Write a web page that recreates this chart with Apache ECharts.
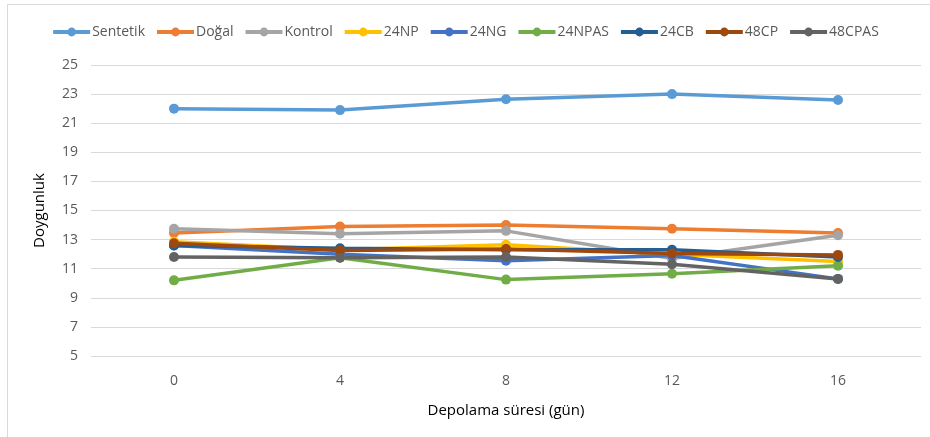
<!DOCTYPE html>
<html>
<head>
<meta charset="utf-8">
<script src="https://cdn.jsdelivr.net/npm/echarts@6/dist/echarts.min.js"></script>
<style>
  html, body { margin: 0; padding: 0; background: #fff; }
  #chart { width: 930px; height: 437px; }
</style>
</head>
<body>
<div id="chart"></div>
<script>
// Storage days on the horizontal axis
const days = ['0', '4', '8', '12', '16'];

// Saturation (Doygunluk) per sample over storage time
const sentetik = [22.0, 21.9, 22.65, 23.0, 22.6];
const dogal    = [13.45, 13.9, 14.0, 13.75, 13.45];
const kontrol  = [13.75, 13.4, 13.6, 11.7, 13.3];
const np24     = [12.85, 12.3, 12.65, 12.0, 11.5];
const ng24     = [12.6, 12.0, 11.55, 11.9, 10.3];
const npas24   = [10.2, 11.75, 10.25, 10.65, 11.2];
const cb24     = [12.6, 12.4, 12.3, 12.3, 11.8];
const cp48     = [12.75, 12.25, 12.35, 12.05, 11.95];
const cpas48   = [11.8, 11.75, 11.8, 11.3, 10.3];

const seriesNames = ['Sentetik', 'Doğal', 'Kontrol', '24NP', '24NG', '24NPAS', '24CB', '48CP', '48CPAS'];
const seriesValues = [sentetik, dogal, kontrol, np24, ng24, npas24, cb24, cp48, cpas48];
const seriesColors = ['#5B9BD5', '#ED7D31', '#A5A5A5', '#FFC000', '#4472C4', '#70AD47', '#255E91', '#9E480E', '#636363'];

// Y axis ticks
const yMin = 5, yMax = 25, yStep = 2;

const font = "'Open Sans', sans-serif";

const chart = echarts.init(document.getElementById('chart'), null, { renderer: 'canvas' });

chart.setOption({
  animation: false,
  backgroundColor: '#ffffff',
  graphic: [{
    type: 'rect',
    shape: { x: 7.5, y: 4.5, width: 940, height: 450 },
    style: { fill: 'none', stroke: '#D9D9D9', lineWidth: 1 },
    silent: true
  }],
  legend: {
    top: 20,
    left: 'center',
    itemWidth: 37,
    itemHeight: 11,
    itemGap: 10,
    lineStyle: { width: 4 },
    textStyle: { color: '#595959', fontSize: 14, fontFamily: font, padding: [0, 0, 0, -3] },
    data: seriesNames
  },
  grid: { left: 91, right: 9, top: 65, bottom: 81 },
  xAxis: {
    type: 'category',
    data: days,
    boundaryGap: true,
    name: 'Depolama süresi (gün)',
    nameLocation: 'middle',
    nameGap: 47,
    nameTextStyle: { color: '#000000', fontSize: 15, fontFamily: font },
    axisLine: { show: false },
    axisTick: { show: false },
    axisLabel: { color: '#595959', fontSize: 14, fontFamily: font, margin: 18 }
  },
  yAxis: {
    type: 'value',
    min: yMin,
    max: yMax,
    interval: yStep,
    name: 'Doygunluk',
    nameLocation: 'middle',
    nameGap: 44,
    nameRotate: 90,
    nameTextStyle: { color: '#000000', fontSize: 15, fontFamily: font },
    axisLine: { show: false },
    axisTick: { show: false },
    axisLabel: { color: '#595959', fontSize: 14, fontFamily: font, margin: 13 },
    splitLine: { lineStyle: { color: '#D9D9D9', width: 1 } }
  },
  series: seriesNames.map((name, i) => ({
    name: name,
    type: 'line',
    data: seriesValues[i],
    symbol: 'circle',
    symbolSize: 10,
    color: seriesColors[i],
    lineStyle: { width: 3.5, color: seriesColors[i] },
    itemStyle: { color: seriesColors[i] }
  }))
});
</script>
</body>
</html>
